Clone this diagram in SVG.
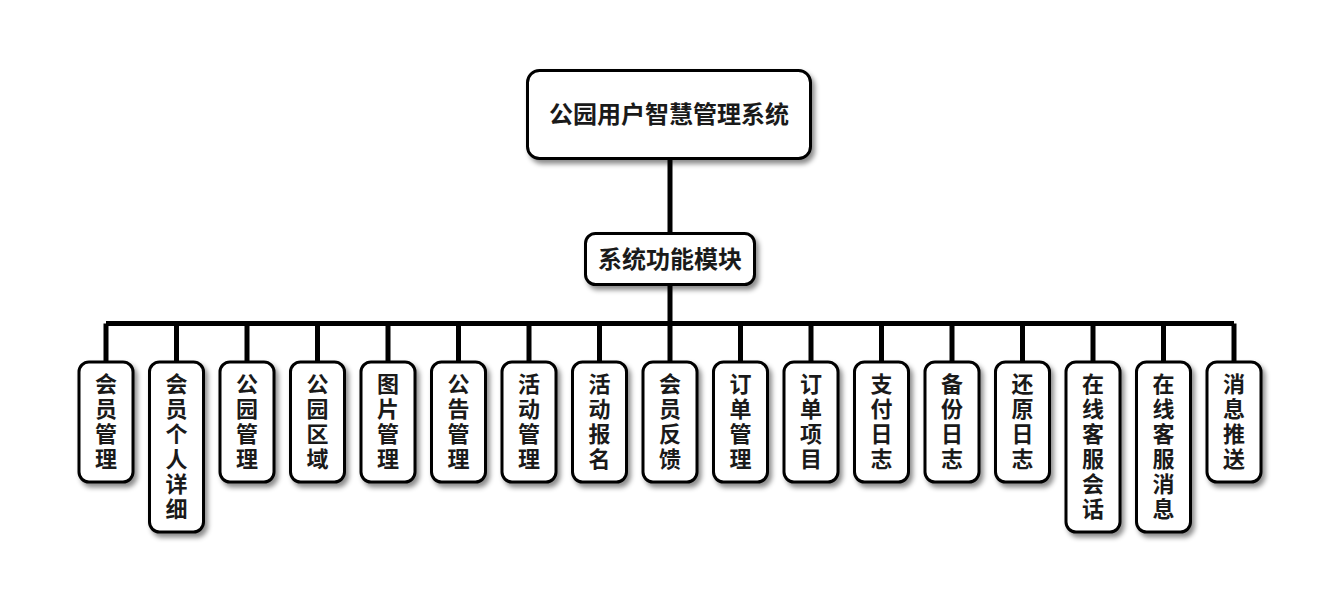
<svg xmlns="http://www.w3.org/2000/svg" width="1339" height="607" viewBox="0 0 1339 607">
<defs>
<filter id="sh" x="-30%" y="-30%" width="160%" height="160%">
<feDropShadow dx="3" dy="4" stdDeviation="2.5" flood-color="#000" flood-opacity="0.45"/>
</filter>
<style>
.box{fill:#fff;stroke:#000;stroke-width:3;filter:url(#sh)}
.t{font-family:"Noto Sans CJK SC","Liberation Sans",sans-serif;font-weight:bold;fill:#1a1a1a;text-anchor:middle}
.big{font-size:24px}
.leaf{font-size:22px;writing-mode:vertical-rl;text-anchor:start;letter-spacing:3px}
.c{stroke:#000;stroke-width:5;fill:none}
</style>
</defs>
<rect width="1339" height="607" fill="#fff"/>
<g id="connectors">
<path class="c" d="M670 158V233M670 285V323.5M106 323.5H1234"/>
<path class="c" d="M106 323.5V362M176.5 323.5V362M247 323.5V362M317.5 323.5V362M388 323.5V362M458.5 323.5V362M529 323.5V362M599.5 323.5V362M670 323.5V362M740.5 323.5V362M811 323.5V362M881.5 323.5V362M952 323.5V362M1022.5 323.5V362M1093 323.5V362M1163.5 323.5V362M1234 323.5V362"/>
</g>
<g id="root">
<rect class="box" x="527.5" y="70.5" width="283" height="88" rx="12"/>
<text class="t big" x="669" y="123">公园用户智慧管理系统</text>
</g>
<g id="module">
<rect class="box" x="585.5" y="233.5" width="169" height="51" rx="10"/>
<text class="t big" x="670" y="268">系统功能模块</text>
</g>
<g id="n1"><rect class="box" x="79" y="362" width="54" height="120" rx="10"/><text class="t leaf" x="106" y="373">会员管理</text></g>
<g id="n2"><rect class="box" x="149.5" y="362" width="54" height="170" rx="10"/><text class="t leaf" x="176.5" y="373">会员个人详细</text></g>
<g id="n3"><rect class="box" x="220" y="362" width="54" height="120" rx="10"/><text class="t leaf" x="247" y="373">公园管理</text></g>
<g id="n4"><rect class="box" x="290.5" y="362" width="54" height="120" rx="10"/><text class="t leaf" x="317.5" y="373">公园区域</text></g>
<g id="n5"><rect class="box" x="361" y="362" width="54" height="120" rx="10"/><text class="t leaf" x="388" y="373">图片管理</text></g>
<g id="n6"><rect class="box" x="431.5" y="362" width="54" height="120" rx="10"/><text class="t leaf" x="458.5" y="373">公告管理</text></g>
<g id="n7"><rect class="box" x="502" y="362" width="54" height="120" rx="10"/><text class="t leaf" x="529" y="373">活动管理</text></g>
<g id="n8"><rect class="box" x="572.5" y="362" width="54" height="120" rx="10"/><text class="t leaf" x="599.5" y="373">活动报名</text></g>
<g id="n9"><rect class="box" x="643" y="362" width="54" height="120" rx="10"/><text class="t leaf" x="670" y="373">会员反馈</text></g>
<g id="n10"><rect class="box" x="713.5" y="362" width="54" height="120" rx="10"/><text class="t leaf" x="740.5" y="373">订单管理</text></g>
<g id="n11"><rect class="box" x="784" y="362" width="54" height="120" rx="10"/><text class="t leaf" x="811" y="373">订单项目</text></g>
<g id="n12"><rect class="box" x="854.5" y="362" width="54" height="120" rx="10"/><text class="t leaf" x="881.5" y="373">支付日志</text></g>
<g id="n13"><rect class="box" x="925" y="362" width="54" height="120" rx="10"/><text class="t leaf" x="952" y="373">备份日志</text></g>
<g id="n14"><rect class="box" x="995.5" y="362" width="54" height="120" rx="10"/><text class="t leaf" x="1022.5" y="373">还原日志</text></g>
<g id="n15"><rect class="box" x="1066" y="362" width="54" height="170" rx="10"/><text class="t leaf" x="1093" y="373">在线客服会话</text></g>
<g id="n16"><rect class="box" x="1136.5" y="362" width="54" height="170" rx="10"/><text class="t leaf" x="1163.5" y="373">在线客服消息</text></g>
<g id="n17"><rect class="box" x="1207" y="362" width="54" height="120" rx="10"/><text class="t leaf" x="1234" y="373">消息推送</text></g>
</svg>
